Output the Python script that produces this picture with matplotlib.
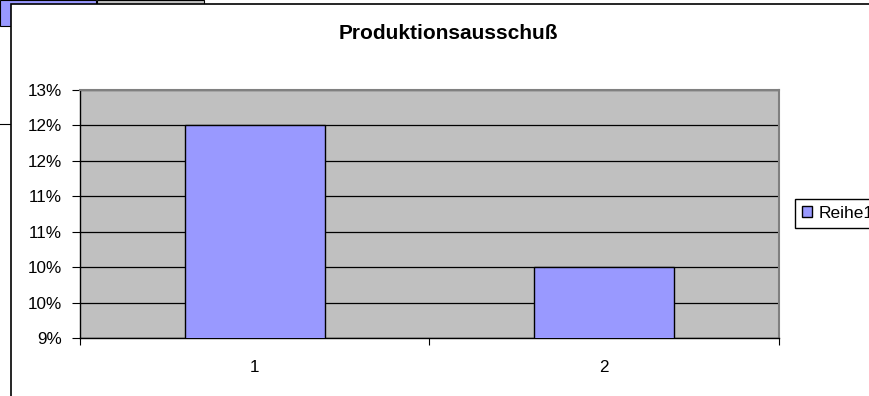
# plot.py
# Excel-style bar chart "Produktionsausschuß" with the spreadsheet cells peeking out behind it.

import matplotlib
matplotlib.use("Agg")
import matplotlib.pyplot as plt
from matplotlib.patches import Rectangle
from matplotlib.lines import Line2D

categories = ["1", "2"]
values = [12.0, 10.0]  # percent
y_ticks = [9.0, 9.5, 10.0, 10.5, 11.0, 11.5, 12.0, 12.5]
y_tick_labels = ["9%", "10%", "10%", "11%", "11%", "12%", "12%", "13%"]
series_name = "Reihe1"
title = "Produktionsausschuß"

plt.rcParams["font.family"] = ["Liberation Sans", "DejaVu Sans"]

W, H = 870, 396
fig = plt.figure(figsize=(W / 100, H / 100), dpi=100)


def fx(px):
    return px / W


def fy(py):
    return 1 - py / H


# spreadsheet leftovers behind the chart object
fig.patches.append(Rectangle((fx(0), fy(26)), fx(96), 26 / H, transform=fig.transFigure,
                             facecolor="#9999FF", edgecolor="black", lw=0.8, zorder=0))
fig.patches.append(Rectangle((fx(97), fy(5)), fx(107), 5 / H, transform=fig.transFigure,
                             facecolor="#C0C0C0", edgecolor="black", lw=0.8, zorder=0))
fig.lines.append(Line2D([fx(0), fx(11)], [fy(124), fy(124)], transform=fig.transFigure,
                        color="black", lw=0.8, zorder=0))

# chart area (runs past the right and bottom edges, like the screenshot)
fig.patches.append(Rectangle((fx(11), fy(H + 5)), fx(W), (H + 1) / H, transform=fig.transFigure,
                             facecolor="white", edgecolor="black", lw=1.2, zorder=1))

ax = fig.add_axes([fx(80), fy(338), fx(779 - 80), (338 - 90) / H], zorder=2)
ax.set_facecolor("#C0C0C0")

x = [i + 0.5 for i in range(len(categories))]
ax.bar(x, values, width=0.4, color="#9999FF", edgecolor="black", lw=1.0,
       label=series_name, zorder=3)

ax.set_xlim(0, len(categories))
ax.set_ylim(y_ticks[0], 12.5)
ax.set_yticks(y_ticks, y_tick_labels)
ax.yaxis.grid(True, color="black", lw=0.9)
ax.set_axisbelow(True)

ax.set_xticks(range(len(categories) + 1), [""] * (len(categories) + 1))
ax.set_xticks(x, categories, minor=True)
ax.tick_params(axis="x", which="major", length=5, width=0.8, direction="out")
ax.tick_params(axis="x", which="minor", length=0, pad=16)
ax.tick_params(axis="y", length=6, width=0.8, pad=7)
ax.tick_params(which="both", labelsize=12.3)

for side in ("top", "right"):
    ax.spines[side].set_color("#808080")
    ax.spines[side].set_linewidth(1.5)
for side in ("left", "bottom"):
    ax.spines[side].set_color("black")
    ax.spines[side].set_linewidth(1.0)

fig.text(fx(448), fy(39), title, ha="center", va="baseline", fontsize=15,
         fontweight="bold", zorder=3)

# legend box is cut by the right edge in the reference screenshot as well
leg = fig.legend(loc="upper left", bbox_to_anchor=(fx(795), fy(199)), fontsize=12.5,
                 frameon=True, fancybox=False, edgecolor="black", framealpha=1,
                 handlelength=0.57, handleheight=0.57, handletextpad=0.4,
                 borderpad=0.4, borderaxespad=0)
leg.get_frame().set_linewidth(1.0)
leg.set_zorder(4)

fig.savefig("out.png", dpi=100)
